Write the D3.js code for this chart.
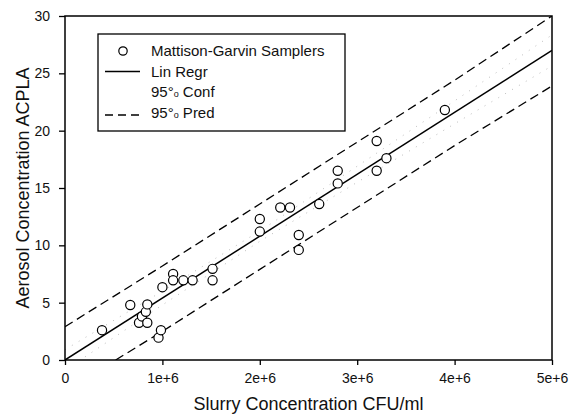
<!DOCTYPE html>
<html>
<head>
<meta charset="utf-8">
<script src="https://cdn.jsdelivr.net/npm/d3@7"></script>
<style>
  html, body { margin: 0; padding: 0; background: #fff; }
  svg { display: block; font-family: "Liberation Sans", Arial, Helvetica, sans-serif; }
</style>
</head>
<body>
<svg id="chart" width="569" height="415"></svg>
<script>
// ---- Data ----
const slurry = [0.38e6, 0.67e6, 0.76e6, 0.79e6, 0.83e6, 0.845e6, 0.845e6, 0.96e6, 0.985e6, 1.0e6,
                1.11e6, 1.11e6, 1.215e6, 1.31e6, 1.515e6, 1.515e6, 2.0e6, 2.0e6, 2.21e6, 2.31e6,
                2.40e6, 2.40e6, 2.61e6, 2.8e6, 2.8e6, 3.2e6, 3.2e6, 3.3e6, 3.9e6];
const aerosol = [2.6, 4.8, 3.25, 3.8, 4.2, 4.85, 3.25, 1.95, 2.6, 6.35,
                 7.5, 6.95, 6.95, 6.95, 7.95, 6.95, 12.3, 11.2, 13.3, 13.3,
                 10.9, 9.6, 13.6, 16.5, 15.4, 19.1, 16.5, 17.6, 21.8];

const regX = [0, 5e6];
const regY = [0, 27.0];

const bandX = [0, 1e6, 2e6, 3e6, 4e6, 5e6];
const confUpper = [0.9, 6.0, 11.25, 16.9, 22.6, 28.35];
const confLower = [-0.9, 4.8, 10.35, 15.5, 20.6, 25.65];

const predUpperX = [0, 1e6, 2e6, 3e6, 4e6, 5e6];
const predUpper = [2.9, 8.2, 13.6, 19.0, 24.4, 30.0];
const predLowerX = [0.52e6, 1e6, 2e6, 3e6, 4e6, 5e6];
const predLower = [0, 2.5, 7.9, 13.3, 18.7, 23.9];

const xTicks = [0, 1e6, 2e6, 3e6, 4e6, 5e6];
const xTickLabels = ["0", "1e+6", "2e+6", "3e+6", "4e+6", "5e+6"];
const yTicks = [0, 5, 10, 15, 20, 25, 30];
const yTickLabels = ["0", "5", "10", "15", "20", "25", "30"];

const xTitle = "Slurry Concentration CFU/ml";
const yTitle = "Aerosol Concentration ACPLA";
const legendLabels = ["Mattison-Garvin Samplers", "Lin Regr", "95°", "95°"];

// ---- Drawing ----
const svg = d3.select("#chart");
const x = d3.scaleLinear().domain([0, 5e6]).range([65, 552]);
const y = d3.scaleLinear().domain([0, 30]).range([360, 16]);

svg.append("defs").append("clipPath").attr("id", "plotclip")
  .append("rect").attr("x", 65).attr("y", 16).attr("width", 487).attr("height", 344);

const line = d3.line().x(d => x(d[0])).y(d => y(d[1]));
const plot = svg.append("g").attr("clip-path", "url(#plotclip)");

// confidence bands (very faint dotted)
[confUpper, confLower].forEach(arr => {
  plot.append("path")
    .attr("d", line(bandX.map((v, i) => [v, arr[i]])))
    .attr("fill", "none").attr("stroke", "#aaa").attr("stroke-width", 0.8)
    .attr("stroke-dasharray", "1,7");
});

// prediction bands (dashed)
plot.append("path")
  .attr("d", line(predUpperX.map((v, i) => [v, predUpper[i]])))
  .attr("fill", "none").attr("stroke", "#000").attr("stroke-width", 1.3)
  .attr("stroke-dasharray", "9,5");
plot.append("path")
  .attr("d", line(predLowerX.map((v, i) => [v, predLower[i]])))
  .attr("fill", "none").attr("stroke", "#000").attr("stroke-width", 1.3)
  .attr("stroke-dasharray", "9,5");

// regression line
plot.append("path")
  .attr("d", line(regX.map((v, i) => [v, regY[i]])))
  .attr("fill", "none").attr("stroke", "#000").attr("stroke-width", 1.5);

// points
plot.selectAll("circle.pt").data(slurry.map((v, i) => [v, aerosol[i]]))
  .enter().append("circle").attr("class", "pt")
  .attr("cx", d => x(d[0])).attr("cy", d => y(d[1])).attr("r", 4.6)
  .attr("fill", "#fff").attr("stroke", "#000").attr("stroke-width", 1.2);

// axes
const xAxis = d3.axisBottom(x).tickValues(xTicks)
  .tickFormat((d, i) => xTickLabels[i]).tickSizeInner(5).tickSizeOuter(0).tickPadding(8);
const gx = svg.append("g").attr("transform", "translate(0,360)").call(xAxis);
const yAxis = d3.axisLeft(y).tickValues(yTicks)
  .tickFormat((d, i) => yTickLabels[i]).tickSizeInner(6).tickSizeOuter(0).tickPadding(9);
const gy = svg.append("g").attr("transform", "translate(65,0)").call(yAxis);
[gx, gy].forEach(g => {
  g.selectAll("text").attr("font-size", 14).attr("fill", "#111")
    .attr("font-family", "Liberation Sans, Arial, sans-serif");
  g.selectAll("line").attr("stroke", "#000").attr("stroke-width", 1.3);
  g.select(".domain").remove();
});

// frame
svg.append("rect").attr("x", 65).attr("y", 16).attr("width", 487).attr("height", 344)
  .attr("fill", "none").attr("stroke", "#000").attr("stroke-width", 1.5);

// titles
svg.append("text").attr("x", 308.5).attr("y", 410).attr("text-anchor", "middle")
  .attr("font-size", 18).attr("fill", "#111").text(xTitle);
svg.append("text").attr("transform", "translate(29,188) rotate(-90)")
  .attr("text-anchor", "middle").attr("font-size", 18).attr("fill", "#111").text(yTitle);

// legend
const lg = svg.append("g");
lg.append("rect").attr("x", 98).attr("y", 34).attr("width", 247).attr("height", 97)
  .attr("fill", "#fff").attr("stroke", "#000").attr("stroke-width", 1.3);
lg.append("circle").attr("cx", 123).attr("cy", 51).attr("r", 4.2)
  .attr("fill", "#fff").attr("stroke", "#000").attr("stroke-width", 1.2);
lg.append("line").attr("x1", 105).attr("x2", 140).attr("y1", 71.5).attr("y2", 71.5)
  .attr("stroke", "#000").attr("stroke-width", 1.3);
lg.append("line").attr("x1", 105).attr("x2", 140).attr("y1", 115).attr("y2", 115)
  .attr("stroke", "#000").attr("stroke-width", 1.3).attr("stroke-dasharray", "8,5");

const baselines = [56, 76.5, 97, 117.5];
const suffix = ["", "", " Conf", " Pred"];
legendLabels.forEach((lab, i) => {
  const t = lg.append("text").attr("x", 151).attr("y", baselines[i])
    .attr("font-size", 15).attr("fill", "#111");
  t.append("tspan").text(lab);
  if (i >= 2) {
    t.append("tspan").attr("font-size", 9).text("o");
    t.append("tspan").text(suffix[i]);
  }
});
</script>
</body>
</html>
